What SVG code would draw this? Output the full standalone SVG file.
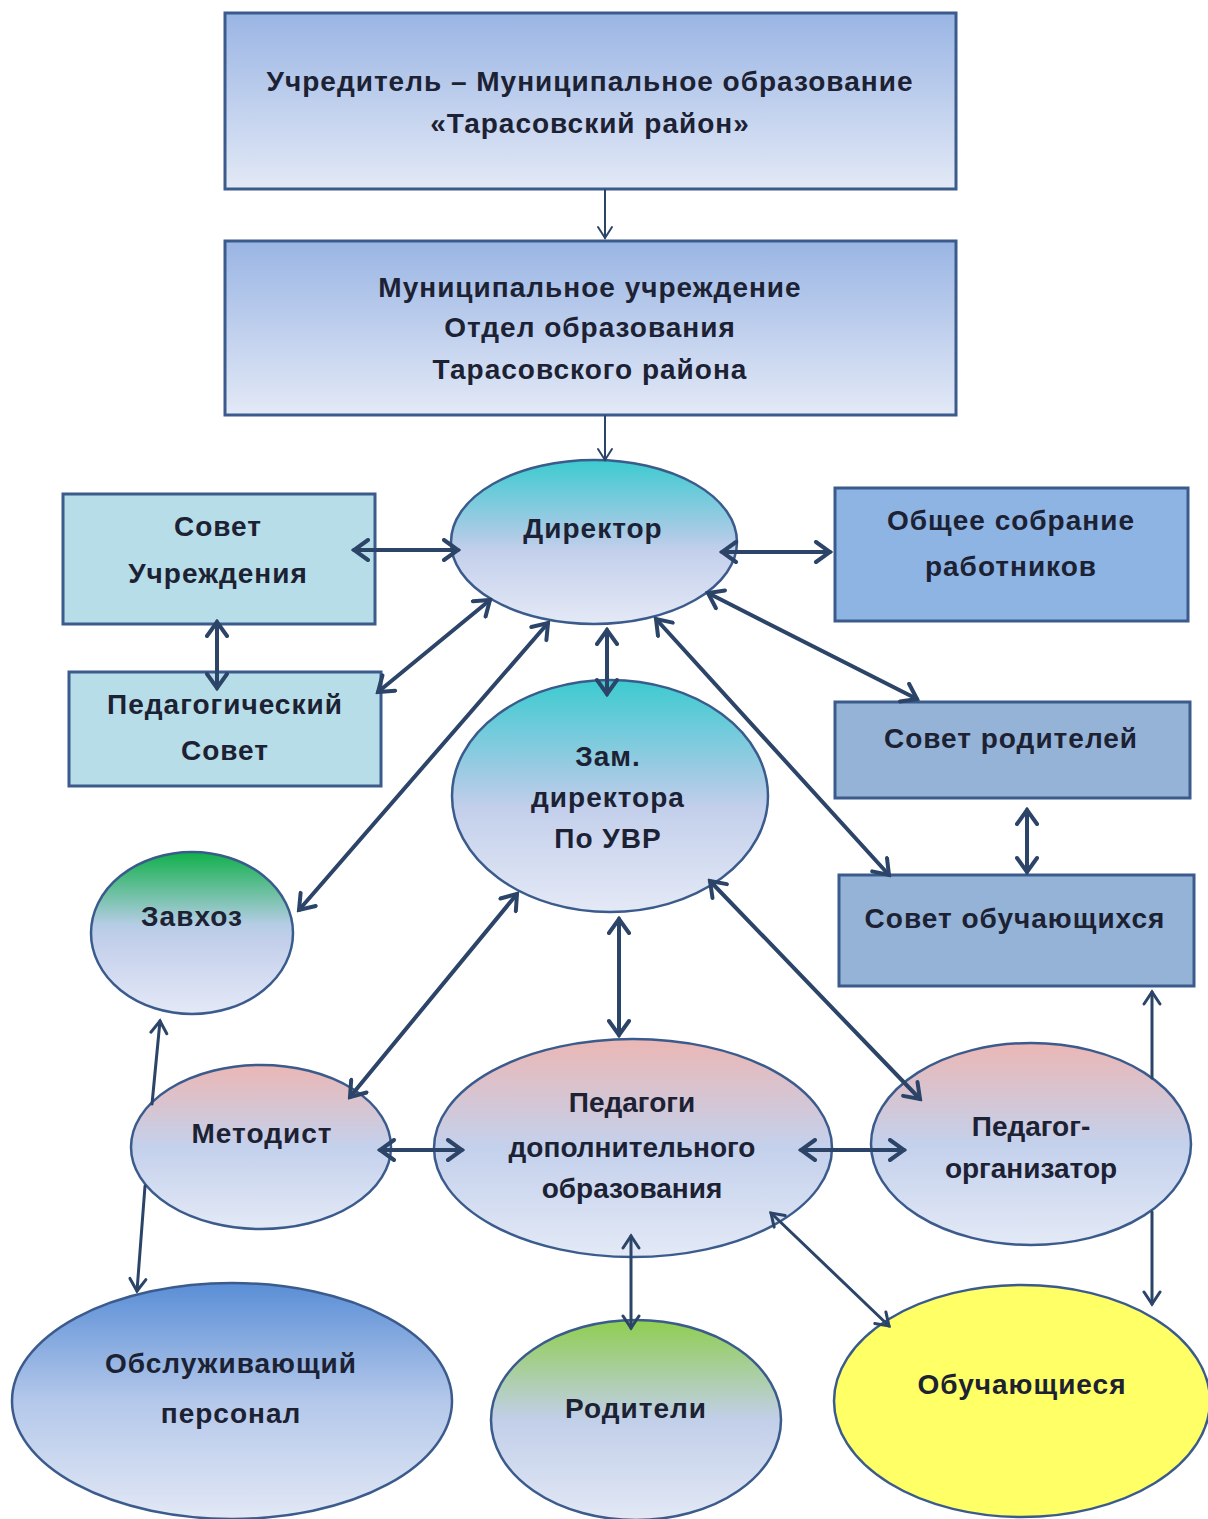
<svg xmlns="http://www.w3.org/2000/svg" width="1208" height="1519" viewBox="0 0 1208 1519">
<style>
.t{font-family:"Liberation Sans","DejaVu Sans",sans-serif;font-weight:bold;fill:#1c2233;text-anchor:middle;font-size:28px;letter-spacing:1px}
.nl{letter-spacing:0}
.box{stroke:#3b5b8c;stroke-width:3}
.ell{stroke:#3b5b8c;stroke-width:2.5}
.c{stroke:#2b4468;fill:none;stroke-linecap:round}
.w4{stroke-width:4;marker-start:url(#ah);marker-end:url(#ah)}
.w3{stroke-width:3;marker-start:url(#ah3);marker-end:url(#ah3)}
.w3e{stroke-width:3;marker-end:url(#ah3)}
.w2e{stroke-width:2;marker-end:url(#ah2)}
</style>
<defs>
<linearGradient id="gTop" x1="0" y1="0" x2="0" y2="1"><stop offset="0" stop-color="#9ab5e4"/><stop offset="1" stop-color="#e3e9f6"/></linearGradient>
<linearGradient id="gTeal" x1="0" y1="0" x2="0" y2="1"><stop offset="0" stop-color="#3ccbd0"/><stop offset="0.45" stop-color="#aacbe6"/><stop offset="0.55" stop-color="#c3cfeb"/><stop offset="1" stop-color="#e4e9f6"/></linearGradient>
<linearGradient id="gGreen" x1="0" y1="0" x2="0" y2="1"><stop offset="0" stop-color="#10b04a"/><stop offset="0.45" stop-color="#b6cde6"/><stop offset="0.55" stop-color="#c3cfeb"/><stop offset="1" stop-color="#e4e9f6"/></linearGradient>
<linearGradient id="gPink" x1="0" y1="0" x2="0" y2="1"><stop offset="0" stop-color="#ebb7b5"/><stop offset="0.5" stop-color="#c4d1ec"/><stop offset="1" stop-color="#e3e9f6"/></linearGradient>
<linearGradient id="gBlue" x1="0" y1="0" x2="0" y2="1"><stop offset="0" stop-color="#5a8ed6"/><stop offset="0.5" stop-color="#b4c8ea"/><stop offset="1" stop-color="#e2e8f5"/></linearGradient>
<linearGradient id="gLime" x1="0" y1="0" x2="0" y2="1"><stop offset="0" stop-color="#8fce50"/><stop offset="0.5" stop-color="#c2cfe9"/><stop offset="1" stop-color="#e2e8f5"/></linearGradient>
<marker id="ah" viewBox="0 0 20 24" refX="17" refY="12" markerWidth="20" markerHeight="24" markerUnits="userSpaceOnUse" orient="auto-start-reverse"><path d="M3,2 L17,12 L3,22" fill="none" stroke="#2b4468" stroke-width="4" stroke-linecap="round" stroke-linejoin="miter"/></marker>
<marker id="ah3" viewBox="0 0 18 20" refX="15" refY="10" markerWidth="18" markerHeight="20" markerUnits="userSpaceOnUse" orient="auto-start-reverse"><path d="M3,2 L15,10 L3,18" fill="none" stroke="#2b4468" stroke-width="3" stroke-linecap="round"/></marker>
<marker id="ah2" viewBox="0 0 16 18" refX="14" refY="9" markerWidth="16" markerHeight="18" markerUnits="userSpaceOnUse" orient="auto-start-reverse"><path d="M3,2 L14,9 L3,16" fill="none" stroke="#2b4468" stroke-width="2" stroke-linecap="round"/></marker>
</defs>

<g id="founder">
<rect class="box" x="225" y="13" width="731" height="176" fill="url(#gTop)"/>
<text class="t" x="590" y="91">Учредитель – Муниципальное образование</text>
<text class="t" x="590" y="133">«Тарасовский район»</text>
</g>

<g id="dept">
<rect class="box" x="225" y="241" width="731" height="174" fill="url(#gTop)"/>
<text class="t" x="590" y="297">Муниципальное учреждение</text>
<text class="t" x="590" y="337">Отдел образования</text>
<text class="t" x="590" y="379">Тарасовского района</text>
</g>

<g id="director">
<ellipse class="ell" cx="594" cy="542" rx="143" ry="82" fill="url(#gTeal)"/>
<text class="t" x="593" y="538">Директор</text>
</g>

<g id="sovet-uchr">
<rect class="box" x="63" y="494" width="312" height="130" fill="#b7dde8"/>
<text class="t" x="218" y="536">Совет</text>
<text class="t" x="218" y="583">Учреждения</text>
</g>

<g id="ped-sovet">
<rect class="box" x="69" y="672" width="312" height="114" fill="#b7dde8"/>
<text class="t" x="225" y="714">Педагогический</text>
<text class="t" x="225" y="760">Совет</text>
</g>

<g id="obshee">
<rect class="box" x="835" y="488" width="353" height="133" fill="#8eb4e3"/>
<text class="t" x="1011" y="530">Общее собрание</text>
<text class="t" x="1011" y="576">работников</text>
</g>

<g id="sovet-rod">
<rect class="box" x="835" y="702" width="355" height="96" fill="#95b3d7"/>
<text class="t" x="1011" y="748">Совет родителей</text>
</g>

<g id="sovet-obuch">
<rect class="box" x="839" y="875" width="355" height="111" fill="#95b3d7"/>
<text class="t" x="1015" y="928">Совет обучающихся</text>
</g>

<g id="zam">
<ellipse class="ell" cx="610" cy="796" rx="158" ry="116" fill="url(#gTeal)"/>
<text class="t" x="608" y="766">Зам.</text>
<text class="t" x="608" y="807">директора</text>
<text class="t" x="608" y="848">По УВР</text>
</g>

<g id="zavhoz">
<ellipse class="ell" cx="192" cy="933" rx="101" ry="81" fill="url(#gGreen)"/>
<text class="t" x="192" y="926">Завхоз</text>
</g>

<g id="metodist">
<ellipse class="ell" cx="261" cy="1147" rx="130" ry="82" fill="url(#gPink)"/>
<text class="t" x="262" y="1143">Методист</text>
</g>

<g id="pedagogi">
<ellipse class="ell" cx="633" cy="1148" rx="199" ry="109" fill="url(#gPink)"/>
<text class="t nl" x="632" y="1112">Педагоги</text>
<text class="t nl" x="632" y="1157">дополнительного</text>
<text class="t nl" x="632" y="1198">образования</text>
</g>

<g id="ped-org">
<ellipse class="ell" cx="1031" cy="1144" rx="160" ry="101" fill="url(#gPink)"/>
<text class="t nl" x="1031" y="1136">Педагог-</text>
<text class="t nl" x="1031" y="1178">организатор</text>
</g>

<g id="obsl">
<ellipse class="ell" cx="232" cy="1401" rx="220" ry="118" fill="url(#gBlue)"/>
<text class="t" x="231" y="1373">Обслуживающий</text>
<text class="t" x="231" y="1423">персонал</text>
</g>

<g id="roditeli">
<ellipse class="ell" cx="636" cy="1420" rx="145" ry="100" fill="url(#gLime)"/>
<text class="t" x="636" y="1418">Родители</text>
</g>

<g id="obuch">
<ellipse class="ell" cx="1022" cy="1401" rx="188" ry="116" fill="#ffff66"/>
<text class="t" x="1022" y="1394">Обучающиеся</text>
</g>

<g id="connectors">
<line class="c w2e" x1="605" y1="190" x2="605" y2="238"/>
<line class="c w2e" x1="605" y1="416" x2="605" y2="460"/>
<line class="c w4" x1="354" y1="550" x2="458" y2="550"/>
<line class="c w4" x1="722" y1="552" x2="830" y2="552"/>
<line class="c w4" x1="217" y1="622" x2="217" y2="688"/>
<line class="c w4" x1="490" y1="600" x2="378" y2="692"/>
<line class="c w4" x1="548" y1="623" x2="299" y2="910"/>
<line class="c w4" x1="607" y1="630" x2="607" y2="694"/>
<line class="c w4" x1="708" y1="593" x2="917" y2="699"/>
<line class="c w4" x1="656" y1="619" x2="889" y2="875"/>
<line class="c w4" x1="1027" y1="810" x2="1027" y2="872"/>
<line class="c w4" x1="517" y1="894" x2="350" y2="1097"/>
<line class="c w4" x1="619" y1="919" x2="619" y2="1035"/>
<line class="c w4" x1="710" y1="881" x2="920" y2="1099"/>
<line class="c w4" x1="380" y1="1150" x2="462" y2="1150"/>
<line class="c w4" x1="801" y1="1150" x2="904" y2="1150"/>
<line class="c w3" x1="771" y1="1213" x2="889" y2="1326"/>
<line class="c w3" x1="631" y1="1236" x2="631" y2="1328"/>
<line class="c w3e" x1="1152" y1="1078" x2="1152" y2="992"/>
<line class="c w3e" x1="1152" y1="1212" x2="1152" y2="1304"/>
<line class="c w3e" x1="152" y1="1104" x2="160" y2="1021"/>
<line class="c w3e" x1="145" y1="1186" x2="137" y2="1291"/>
</g>
</svg>
